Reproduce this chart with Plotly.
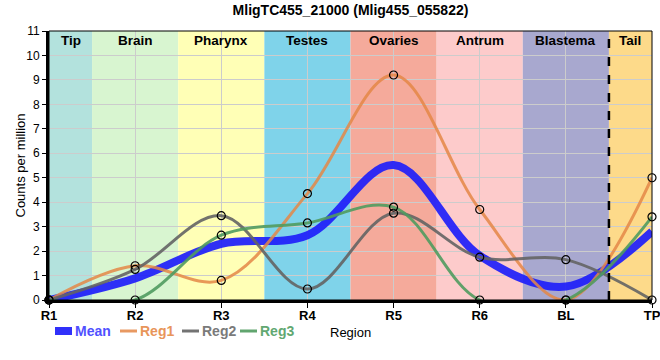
import plotly.graph_objects as go

categories = ["R1", "R2", "R3", "R4", "R5", "R6", "BL", "TP"]
reg1 = [0, 1.4, 0.8, 4.35, 9.2, 3.7, 0, 5.0]
reg2 = [0, 1.25, 3.45, 0.45, 3.55, 1.75, 1.65, 0]
reg3 = [0, 0, 2.65, 3.15, 3.8, 0, 0, 3.4]
mean = [round((a + b + c) / 3, 3) for a, b, c in zip(reg1, reg2, reg3)]

series_names = ["Mean", "Reg1", "Reg2", "Reg3"]
line_colors = ["rgba(30,30,250,0.92)", "rgba(228,135,70,0.85)",
               "rgba(100,100,100,0.9)", "rgba(80,155,95,0.9)"]
text_colors = ["#5050ff", "#e8955a", "#7a7a7a", "#62a872"]

bands = ["Tip", "Brain", "Pharynx", "Testes", "Ovaries", "Antrum", "Blastema", "Tail"]
band_colors = ["#b3e2dd", "#d8f5d0", "#ffffb6", "#7fd3ea", "#f5aa9b", "#fdcbcb", "#a8a8cf", "#fdda8a"]

xs = list(range(len(categories)))

fig = go.Figure()

fig.add_trace(go.Scatter(
    x=xs, y=mean, mode="lines", line_shape="spline",
    line=dict(color=line_colors[0], width=8, smoothing=1.0),
    name=series_names[0], cliponaxis=False, showlegend=False))

for vals, col, nm in zip([reg1, reg2, reg3], line_colors[1:], series_names[1:]):
    fig.add_trace(go.Scatter(
        x=xs, y=vals, mode="lines+markers", line_shape="spline",
        line=dict(color=col, width=3, smoothing=1.0),
        marker=dict(symbol="circle", size=8, color="rgba(0,0,0,0)",
                    line=dict(color="black", width=1.2)),
        name=nm, cliponaxis=False, showlegend=False))

shapes = []
for i, c in enumerate(band_colors):
    shapes.append(dict(type="rect", xref="x", yref="paper",
                       x0=max(i - 0.5, 0), x1=min(i + 0.5, 7), y0=0, y1=1,
                       fillcolor=c, line=dict(width=0), layer="below"))
shapes.append(dict(type="line", xref="x", yref="paper", x0=6.5, x1=6.5, y0=0, y1=1,
                   line=dict(color="black", width=2.5, dash="dash"), layer="above"))
shapes.append(dict(type="rect", xref="paper", yref="paper", x0=0, x1=1, y0=0, y1=1,
                   line=dict(color="black", width=1), layer="above"))

annotations = []
for i, b in enumerate(bands):
    cx = (max(i - 0.5, 0) + min(i + 0.5, 7)) / 2
    annotations.append(dict(x=cx, y=1, xref="x", yref="paper", text=f"<b>{b}</b>",
                            showarrow=False, yanchor="top", yshift=0,
                            font=dict(size=13.5, color="black")))

# custom legend row (below the x axis)
legend_starts = [6, 71, 133, 191]
for nm, lc, tc, s in zip(series_names, line_colors, text_colors, legend_starts):
    w = 8 if nm == "Mean" else 3
    shapes.append(dict(type="line", xref="paper", yref="paper",
                       xsizemode="pixel", ysizemode="pixel", xanchor=0, yanchor=0,
                       x0=s, x1=s + 17, y0=-31, y1=-31,
                       line=dict(color=lc, width=w), layer="above"))
    annotations.append(dict(x=0, y=0, xref="paper", yref="paper", xanchor="left",
                            yanchor="middle", xshift=s + 18, yshift=-31,
                            text=f"<b>{nm}</b>", showarrow=False,
                            font=dict(size=14, color=tc)))

annotations.append(dict(x=0.5, y=0, xref="paper", yref="paper", xanchor="center",
                        yanchor="middle", yshift=-32, text="Region", showarrow=False,
                        font=dict(size=13, color="black")))
annotations.append(dict(x=0, y=0.5, xref="paper", yref="paper", xanchor="center",
                        yanchor="middle", xshift=-29, text="Counts per million",
                        textangle=-90, showarrow=False,
                        font=dict(size=13, color="black")))

fig.update_layout(
    width=660, height=360,
    margin=dict(l=49, r=8, t=31, b=60, autoexpand=False),
    paper_bgcolor="white", plot_bgcolor="white",
    title=dict(text="<b>MligTC455_21000 (Mlig455_055822)</b>", x=0.5, xanchor="center",
               xref="paper", y=1 - 10 / 360, yanchor="middle",
               font=dict(size=14, color="black")),
    font=dict(family="Liberation Sans, Arial", color="black", size=12),
    shapes=shapes, annotations=annotations,
    showlegend=False,
)

fig.update_xaxes(
    range=[0, 7], tickmode="array", tickvals=xs,
    ticktext=[f"<b>{c}</b>" for c in categories],
    showgrid=True, gridcolor="#cccccc", gridwidth=1,
    showline=True, linecolor="black", linewidth=3,
    ticks="outside", ticklen=5, tickcolor="black",
    tickfont=dict(size=13), zeroline=False, automargin=False,
    ticklabelstandoff=-4, ticklabeloverflow="allow",
)
fig.update_yaxes(
    range=[0, 11], dtick=1, tick0=0,
    showgrid=True, gridcolor="#cccccc", gridwidth=1,
    showline=True, linecolor="black", linewidth=3,
    ticks="outside", ticklen=4, tickcolor="black",
    tickfont=dict(size=12), zeroline=False, automargin=False,
    ticklabeloverflow="allow",
)

fig.write_html("out.html",
               config={"displayModeBar": False},
               post_script="document.body.style.margin='0';document.body.style.overflow='hidden';")
